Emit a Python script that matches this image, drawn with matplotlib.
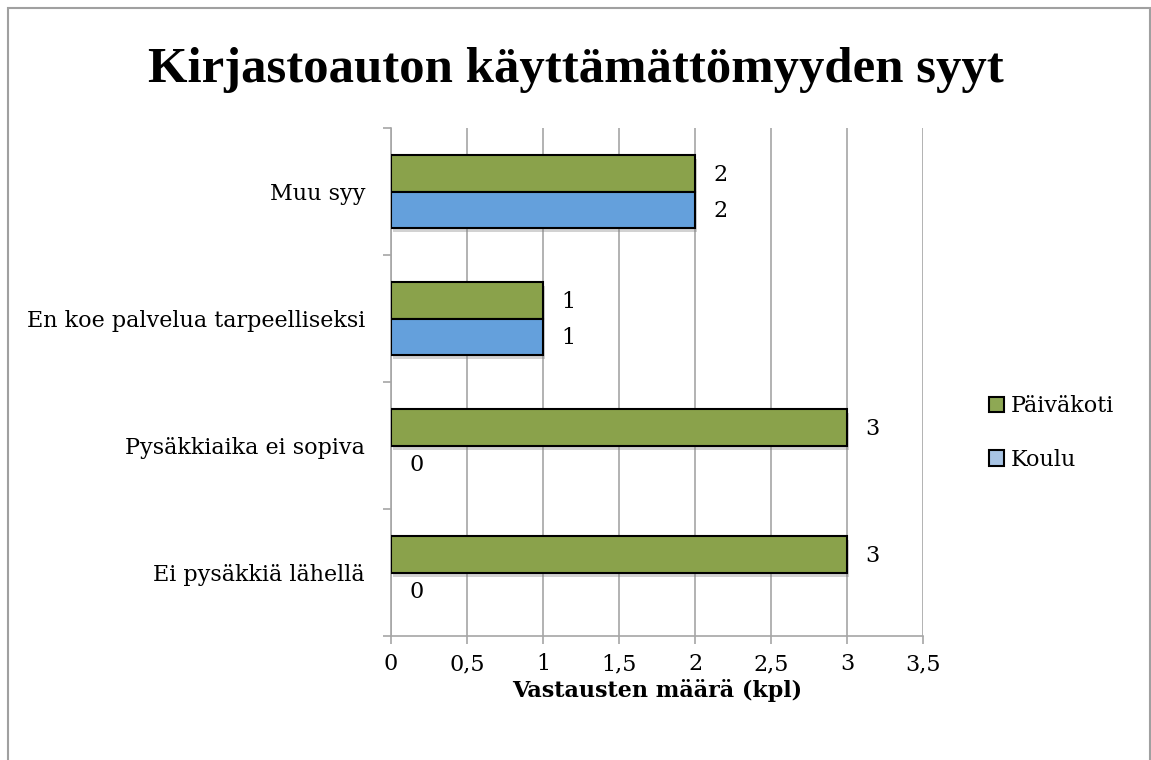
import matplotlib
matplotlib.use("Agg")
import matplotlib.pyplot as plt
import matplotlib.patheffects as pe
from matplotlib.patches import Patch, Rectangle
import numpy as np

categories = ["Ei pysäkkiä lähellä", "Pysäkkiaika ei sopiva",
              "En koe palvelua tarpeelliseksi", "Muu syy"]
paivakoti = [3, 3, 1, 2]
koulu = [0, 0, 1, 2]
series_names = ["Päiväkoti", "Koulu"]
xticks = [0, 0.5, 1, 1.5, 2, 2.5, 3, 3.5]
xtick_labels = ["0", "0,5", "1", "1,5", "2", "2,5", "3", "3,5"]
title = "Kirjastoauton käyttämättömyyden syyt"
xlabel = "Vastausten määrä (kpl)"

green = "#8aa24b"
blue = "#64a0dc"
legend_green = "#8ea854"
legend_blue = "#a8c4e4"
grid_col = "#a6a6a6"

plt.rcParams['font.family'] = ['DejaVu Serif']
FS = 16

fig = plt.figure(figsize=(11.51, 7.60), dpi=100)
W, H = 1151, 760
fig.patches.append(Rectangle((8 / W, -0.01), (1150 - 8) / W, 1 - 8 / H + 0.01,
                             transform=fig.transFigure, fill=False,
                             edgecolor="#a0a0a0", lw=1.5, zorder=0))

ax = fig.add_axes([391 / W, 1 - 636 / H, (923 - 391) / W, (636 - 128) / H])

y = np.arange(len(categories))
h = 0.288
shadow = [pe.SimplePatchShadow(offset=(1.5, -3), shadow_rgbFace="#808080", alpha=0.35), pe.Normal()]
bg = ax.barh(y + h / 2, paivakoti, height=h, color=green, edgecolor="black", lw=1.5,
             zorder=3, path_effects=shadow)
bb = ax.barh(y - h / 2, koulu, height=h, color=blue, edgecolor="black", lw=1.5,
             zorder=3, path_effects=shadow)

for bars, vals in ((bg, paivakoti), (bb, koulu)):
    for rect, v in zip(bars, vals):
        if v == 0:
            rect.set_linewidth(0)
            rect.set_path_effects([])
        ax.annotate(f"{v}", xy=(v, rect.get_y() + rect.get_height() / 2),
                    xytext=(18.5, -1), textcoords="offset points",
                    ha="center", va="center", fontsize=FS, zorder=5)

ax.set_xlim(0, 3.5)
ax.set_ylim(-0.5, len(categories) - 0.5)
ax.set_xticks(xticks)
ax.set_xticklabels(xtick_labels, fontsize=FS)
for lab in ax.get_xticklabels():
    lab.set_verticalalignment("baseline")
ax.set_yticks(y)
ax.set_yticklabels(categories, fontsize=FS)
ax.set_yticks(np.arange(-0.5, len(categories), 1.0), minor=True)
ax.tick_params(axis="y", which="major", length=0, pad=26 * 0.72)
ax.tick_params(axis="y", which="minor", length=6, color=grid_col, width=1.2)
ax.tick_params(axis="x", length=6, color=grid_col, width=1.2, pad=18.5)
ax.xaxis.grid(True, color=grid_col, lw=1.2, zorder=0)
ax.set_axisbelow(True)
for s in ("top", "right"):
    ax.spines[s].set_visible(False)
for s in ("left", "bottom"):
    ax.spines[s].set_color(grid_col)
    ax.spines[s].set_linewidth(1.2)

ax.set_xlabel(xlabel, fontsize=FS, fontweight="bold", labelpad=3)
fig.text(0.5, 1 - 70 / H, title, ha="center", va="center",
         fontsize=36.5, fontweight="bold", family="Liberation Serif")

handles = [Patch(facecolor=legend_green, edgecolor="black", lw=1.5),
           Patch(facecolor=legend_blue, edgecolor="black", lw=1.5)]
fig.legend(handles, series_names, loc="center left",
           bbox_to_anchor=(980 / W, 1 - 433 / H), frameon=False, fontsize=FS,
           handlelength=0.7, handleheight=0.7, handletextpad=0.3,
           labelspacing=1.4, borderaxespad=0)

fig.savefig("out.png", dpi=100)
